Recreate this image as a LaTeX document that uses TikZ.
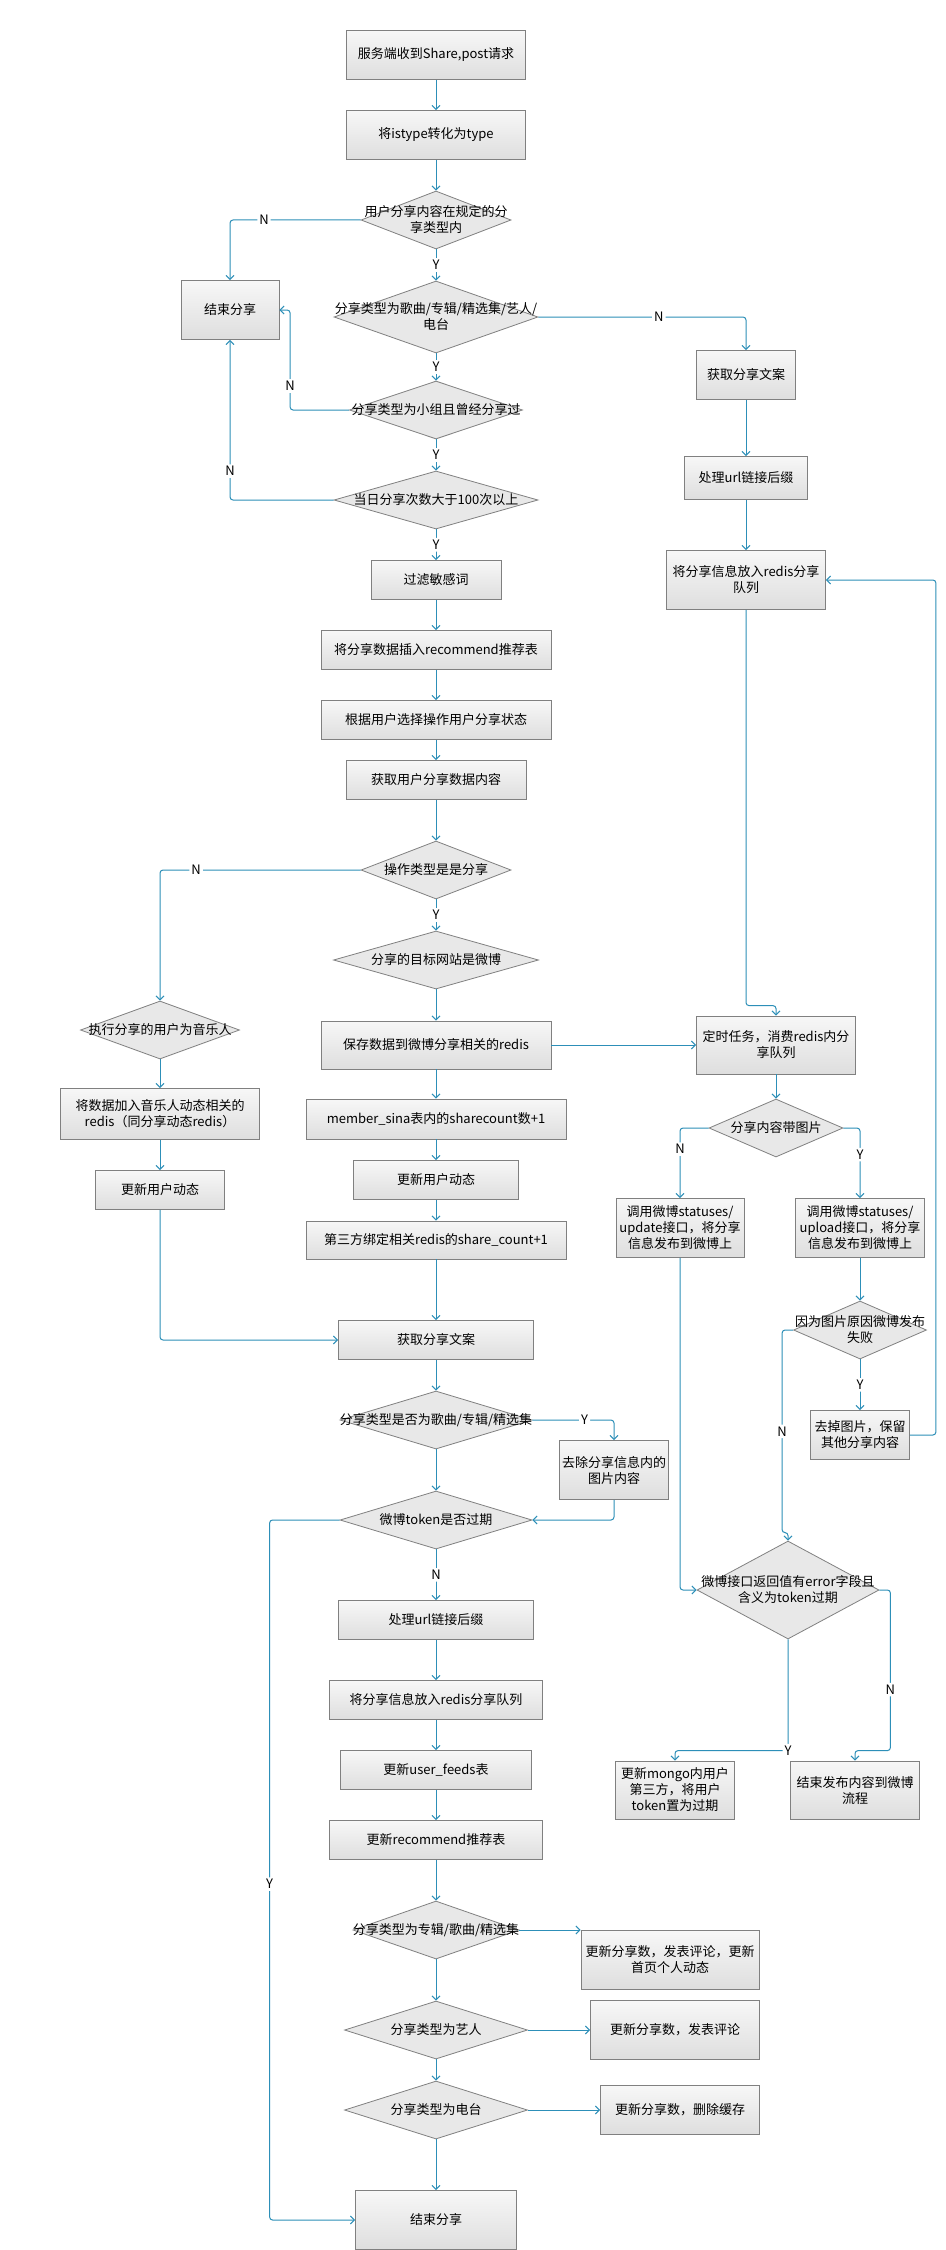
\documentclass[tikz,border=0pt]{standalone}
\usepackage{fontspec}
\setmainfont{Noto Sans CJK SC}
\usetikzlibrary{shapes.geometric,arrows.meta}
\definecolor{flowline}{RGB}{45,143,184}
\definecolor{boxline}{RGB}{128,128,128}
\definecolor{boxtop}{RGB}{247,247,247}
\definecolor{boxbot}{RGB}{222,222,222}
\definecolor{decfill}{RGB}{232,232,232}

\begin{document}
\begin{tikzpicture}[x=1pt,y=-1pt,
    txt/.style={font=\fontsize{13}{16}\selectfont, align=center},
    wh/.style 2 args={minimum width=#1pt, minimum height=#2pt},
    box/.style={txt, rectangle, draw=boxline, line width=0.8pt, top color=boxtop, bottom color=boxbot, inner sep=1pt},
    dec/.style={diamond, draw=boxline, line width=0.8pt, fill=decfill, inner sep=0pt},
    lab/.style={txt, inner sep=0pt},
    yn/.style={fill=white, inner sep=2pt, font=\fontsize{13}{13}\selectfont},
    flow/.style={draw=flowline, line width=1pt, rounded corners=3pt, -{Straight Barb[length=4pt,width=8pt]}}]
    \path[use as bounding box, fill=white] (0,0) rectangle (945,2250);
    \node[box, wh={179}{49}] (s1) at (436,55) {服务端收到Share,post请求};
    \node[box, wh={179}{49}] (s2) at (436,135) {将istype转化为type};
    \node[dec, wh={150}{58}, label={[lab]center:用户分享内容在规定的分\\享类型内}] (d1) at (436,220) {};
    \node[box, wh={98}{59}] (e1) at (230,310) {结束分享};
    \node[dec, wh={204}{72}, label={[lab]center:分享类型为歌曲/专辑/精选集/艺人/\\电台}] (d2) at (436,317) {};
    \node[dec, wh={173}{58}, label={[lab]center:分享类型为小组且曾经分享过}] (d3) at (436,410) {};
    \node[dec, wh={204}{58}, label={[lab]center:当日分享次数大于100次以上}] (d4) at (436,500) {};
    \node[box, wh={130}{39}] (f1) at (436,580) {过滤敏感词};
    \node[box, wh={230}{39}] (f2) at (436,650) {将分享数据插入recommend推荐表};
    \node[box, wh={230}{39}] (f3) at (436,720) {根据用户选择操作用户分享状态};
    \node[box, wh={180}{39}] (f4) at (436,780) {获取用户分享数据内容};
    \node[dec, wh={150}{58}, label={[lab]center:操作类型是是分享}] (d5) at (436,870) {};
    \node[dec, wh={205}{58}, label={[lab]center:分享的目标网站是微博}] (d6) at (436,960) {};
    \node[dec, wh={159}{58}, label={[lab]center:执行分享的用户为音乐人}] (d7) at (160,1030) {};
    \node[box, wh={199}{51}] (m1) at (160,1114) {将数据加入音乐人动态相关的\\redis（同分享动态redis）};
    \node[box, wh={129}{39}] (m2) at (160,1190) {更新用户动态};
    \node[box, wh={230}{48}] (g1) at (436,1045) {保存数据到微博分享相关的redis};
    \node[box, wh={260}{40}] (g2) at (436,1119) {member\_sina表内的sharecount数+1};
    \node[box, wh={165}{39}] (g3) at (436,1180) {更新用户动态};
    \node[box, wh={260}{38}] (g4) at (436,1240) {第三方绑定相关redis的share\_count+1};
    \node[box, wh={195}{39}] (h1) at (436,1340) {获取分享文案};
    \node[dec, wh={192}{58}, label={[lab]center:分享类型是否为歌曲/专辑/精选集}] (d11) at (436,1420) {};
    \node[box, wh={109}{59}] (w1) at (614,1470) {去除分享信息内的\\图片内容};
    \node[dec, wh={192}{58}, label={[lab]center:微博token是否过期}] (d12) at (436,1520) {};
    \node[box, wh={195}{39}] (p1) at (436,1620) {处理url链接后缀};
    \node[box, wh={213}{39}] (p2) at (436,1700) {将分享信息放入redis分享队列};
    \node[box, wh={191}{39}] (p3) at (436,1770) {更新user\_feeds表};
    \node[box, wh={213}{39}] (p4) at (436,1840) {更新recommend推荐表};
    \node[dec, wh={166}{58}, label={[lab]center:分享类型为专辑/歌曲/精选集}] (d13) at (436,1930) {};
    \node[box, wh={178}{59}] (q1) at (670,1960) {更新分享数，发表评论，更新\\首页个人动态};
    \node[dec, wh={183}{58}, label={[lab]center:分享类型为艺人}] (d14) at (436,2030) {};
    \node[box, wh={169}{59}] (q2) at (675,2030) {更新分享数，发表评论};
    \node[dec, wh={183}{58}, label={[lab]center:分享类型为电台}] (d15) at (436,2110) {};
    \node[box, wh={159}{49}] (q3) at (680,2110) {更新分享数，删除缓存};
    \node[box, wh={161}{59}] (z) at (436,2220) {结束分享};
    \node[box, wh={99}{49}] (r1) at (746,375) {获取分享文案};
    \node[box, wh={123}{43}] (r2) at (746,478) {处理url链接后缀};
    \node[box, wh={159}{59}] (r3) at (746,580) {将分享信息放入redis分享\\队列};
    \node[box, wh={159}{58}] (t1) at (776,1045) {定时任务，消费redis内分\\享队列};
    \node[dec, wh={134}{58}, label={[lab]center:分享内容带图片}] (d8) at (776,1128) {};
    \node[box, wh={128}{59}] (u1) at (680,1228) {调用微博statuses/\\update接口，将分享\\信息发布到微博上};
    \node[box, wh={129}{59}] (u2) at (860,1228) {调用微博statuses/\\upload接口，将分享\\信息发布到微博上};
    \node[dec, wh={133}{58}, label={[lab]center:因为图片原因微博发布\\失败}] (d9) at (860,1330) {};
    \node[box, wh={99}{49}] (k1) at (860,1435) {去掉图片，保留\\其他分享内容};
    \node[dec, wh={182}{98}, label={[lab]center:微博接口返回值有error字段且\\含义为token过期}] (d10) at (788,1590) {};
    \node[box, wh={119}{58}] (v1) at (675,1790) {更新mongo内用户\\第三方，将用户\\token置为过期};
    \node[box, wh={129}{58}] (v2) at (855,1790) {结束发布内容到微博\\流程};
    \draw[flow] (s1) -- (s2);
    \draw[flow] (s2) -- (d1);
    \draw[flow] (d1.west) -| node[yn, pos=0.37] {N} (e1.north);
    \draw[flow] (d1) -- node[yn] {Y} (d2);
    \draw[flow] (d2.east) -| node[yn, pos=0.29] {N} (r1.north);
    \draw[flow] (d2) -- node[yn] {Y} (d3);
    \draw[flow] (d3.west) -- ++(-59,0) |- node[yn, pos=0.12] {N} (e1.east);
    \draw[flow] (d3) -- node[yn] {Y} (d4);
    \draw[flow] (d4.west) -| node[yn, pos=0.59] {N} (e1.south);
    \draw[flow] (d4) -- node[yn] {Y} (f1);
    \draw[flow] (f1) -- (f2);
    \draw[flow] (f2) -- (f3);
    \draw[flow] (f3) -- (f4);
    \draw[flow] (f4) -- (d5);
    \draw[flow] (d5.west) -| node[yn, pos=0.41] {N} (d7.north);
    \draw[flow] (d5) -- node[yn] {Y} (d6);
    \draw[flow] (d6) -- (g1);
    \draw[flow] (g1) -- (t1);
    \draw[flow] (g1) -- (g2);
    \draw[flow] (g2) -- (g3);
    \draw[flow] (g3) -- (g4);
    \draw[flow] (g4) -- (h1);
    \draw[flow] (d7) -- (m1);
    \draw[flow] (m1) -- (m2);
    \draw[flow] (m2.south) |- (h1.west);
    \draw[flow] (r1) -- (r2);
    \draw[flow] (r2) -- (r3);
    \draw[flow] (r3.south) |- ([yshift=10pt]t1.north) -- (t1.north);
    \draw[flow] (t1) -- (d8);
    \draw[flow] (d8.west) -| node[yn, pos=0.65] {N} (u1.north);
    \draw[flow] (d8.east) -| node[yn, pos=0.69] {Y} (u2.north);
    \draw[flow] (u2) -- (d9);
    \draw[flow] (d9) -- node[yn] {Y} (k1);
    \draw[flow] (d9.west) -- ++(-11,0) |- node[yn, pos=0.25] {N} ([yshift=8pt]d10.north) -- (d10.north);
    \draw[flow] (k1.east) -- ++(26,0) |- (r3.east);
    \draw[flow] (u1.south) |- (d10.west);
    \draw[flow] (d10.south) |- node[yn, pos=0.5] {Y} ([yshift=10pt]v1.north) -- (v1.north);
    \draw[flow] (d10.east) -- ++(11,0) |- node[yn, pos=0.31] {N} ([yshift=10pt]v2.north) -- (v2.north);
    \draw[flow] (h1) -- (d11);
    \draw[flow] (d11.east) -| node[yn, pos=0.32] {Y} (w1.north);
    \draw[flow] (d11) -- (d12);
    \draw[flow] (w1.south) |- (d12.east);
    \draw[flow] (d12.west) -- ++(-70,0) |- node[yn, pos=0.26] {Y} (z.west);
    \draw[flow] (d12) -- node[yn] {N} (p1);
    \draw[flow] (p1) -- (p2);
    \draw[flow] (p2) -- (p3);
    \draw[flow] (p3) -- (p4);
    \draw[flow] (p4) -- (d13);
    \draw[flow] (d13.east) -- (d13.east -| q1.west);
    \draw[flow] (d13) -- (d14);
    \draw[flow] (d14) -- (q2);
    \draw[flow] (d14) -- (d15);
    \draw[flow] (d15) -- (q3);
    \draw[flow] (d15) -- (z);
\end{tikzpicture}
\end{document}
